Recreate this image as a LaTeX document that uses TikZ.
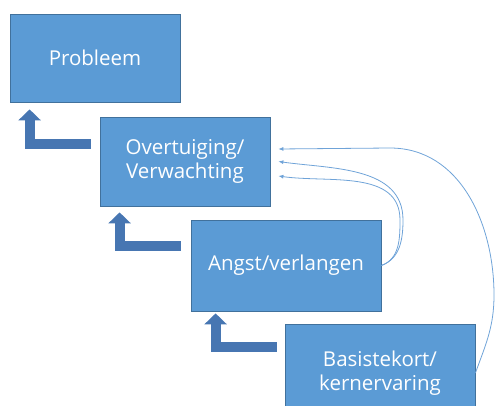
\documentclass[tikz,border=0pt]{standalone}
\usepackage{fontspec}
\setmainfont{Open Sans}
\usetikzlibrary{arrows.meta}
\definecolor{boxblue}{HTML}{5B9BD5}
\definecolor{boxedge}{HTML}{41719C}
\definecolor{bentblue}{HTML}{4776B2}
\definecolor{linkblue}{HTML}{6FA3D8}

\begin{document}
\begin{tikzpicture}[x=1pt,y=1pt,
  stap/.style={fill=boxblue,draw=boxedge,line width=0.8pt,text=white,align=center,
    font=\fontsize{20.5}{24.5}\selectfont,inner sep=0pt},
  terug/.style={draw=bentblue,line width=10pt,-{Triangle[width=22pt,length=11pt]}},
  link/.style={draw=linkblue,line width=0.8pt,-{Latex[length=5pt,width=4pt]}}]

\clip (0,0) rectangle (495,405);

\node[stap,minimum width=170pt,minimum height=88pt] (probleem) at (95,347) {Probleem};
\node[stap,minimum width=170pt,minimum height=89pt] (overtuiging) at (185,243.5) {Overtuiging/\\Verwachting};
\node[stap,minimum width=190pt,minimum height=91pt] (angst) at (286,139.5) {Angst/verlangen};
\node[stap,minimum width=190pt,minimum height=98pt] (basis) at (380,32) {Basistekort/\\kernervaring};

% terug naar de laag erboven
\draw[terug] ([shift={(-9pt,-27pt)}]overtuiging.north west) -| ([shift={(20pt,-7pt)}]probleem.south west);
\draw[terug] ([shift={(-10pt,-26.5pt)}]angst.north west) -| ([shift={(20pt,-6pt)}]overtuiging.south west);
\draw[terug] ([shift={(-8pt,-23pt)}]basis.north west) -| ([shift={(25pt,-2pt)}]angst.south west);

\coordinate (in1) at ([shift={(8pt,12.5pt)}]overtuiging.east);
\coordinate (in2) at ([shift={(8pt,0pt)}]overtuiging.east);
\coordinate (in3) at ([shift={(8pt,-14.5pt)}]overtuiging.east);

\draw[link] (basis.east) to[out=70,in=-90] (494,110) to[out=90,in=0] (390,257) -- (in1);
\draw[link] (angst.east) to[out=20,in=-90] (403,185) to[out=90,in=-8] (in2);
\draw[link] (angst.east) to[out=20,in=-90] (400,185) to[out=90,in=-8] (in3);

\end{tikzpicture}
\end{document}
